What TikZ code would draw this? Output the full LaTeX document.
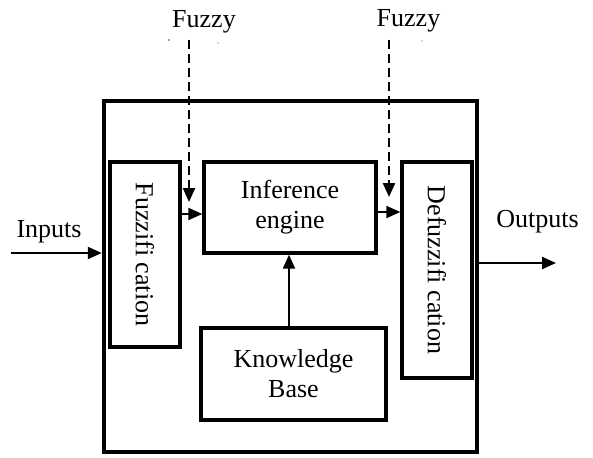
\documentclass[tikz,border=0pt]{standalone}
\usepackage{fontspec}
\setmainfont{Liberation Serif}
\usetikzlibrary{arrows.meta}
\begin{document}
\begin{tikzpicture}[x=1pt,y=-1pt,
  every node/.style={font=\fontsize{26}{30}\selectfont},
  block/.style={draw,line width=3.4pt,inner sep=0pt,align=center},
  frame/.style={draw,line width=4.5pt,inner sep=0pt},
  arr/.style={line width=2.2pt,-{Triangle[length=14pt,width=12pt]}},
  dasharr/.style={arr,dash pattern=on 9pt off 5pt},
  lbl/.style={anchor=base,inner sep=0pt}]
\useasboundingbox (0,0) rectangle (593,457);

% system frame and its blocks
\node[frame,minimum width=373pt,minimum height=351pt] (sys) at (290.5,276.5) {};
\node[block,minimum width=70pt,minimum height=185pt] (fuzz) at (145,254.5)
  {\rotatebox{-90}{Fuzzifi cation}};
\node[block,minimum width=172pt,minimum height=91pt] (inf) at (290,207.5)
  {Inference\\engine};
\node[block,minimum width=70pt,minimum height=216pt] (defuzz) at (437,270)
  {\rotatebox{-90}{Defuzzifi cation}};
\node[block,minimum width=185pt,minimum height=92pt] (kb) at (293.5,374)
  {Knowledge\\Base};

% signal flow
\draw[arr] (fuzz.east |- 0,214) -- (inf.west |- 0,214);
\draw[arr] (inf.east |- 0,212) -- (defuzz.west |- 0,212);
\draw[arr] (kb.north -| 289,0) -- (inf.south -| 289,0);

% external inputs and outputs
\coordinate (in) at (11,253);
\coordinate (out) at (556,263);
\draw[arr] (in) -- (sys.west |- in);
\draw[arr] (sys.east |- out) -- (out);
\node[lbl] (inlbl) at (49,237) {Inputs};
\node[lbl] (outlbl) at (537.5,227) {Outputs};

% fuzzy rule inputs
\coordinate (f1top) at (189,40);
\coordinate (f1end) at (189,202);
\coordinate (f2top) at (389,40);
\coordinate (f2end) at (389,197);
\draw[dasharr] (f1top) -- (f1end);
\draw[dasharr] (f2top) -- (f2end);
\node[lbl] (fz1) at (204,28) {Fuzzy};
\node[lbl] (fz2) at (408.5,27) {Fuzzy};

% specks under the labels
\fill[black!70] (169,40) circle (0.8pt) (218,43) circle (0.7pt) (422,41) circle (0.7pt);
\end{tikzpicture}
\end{document}
